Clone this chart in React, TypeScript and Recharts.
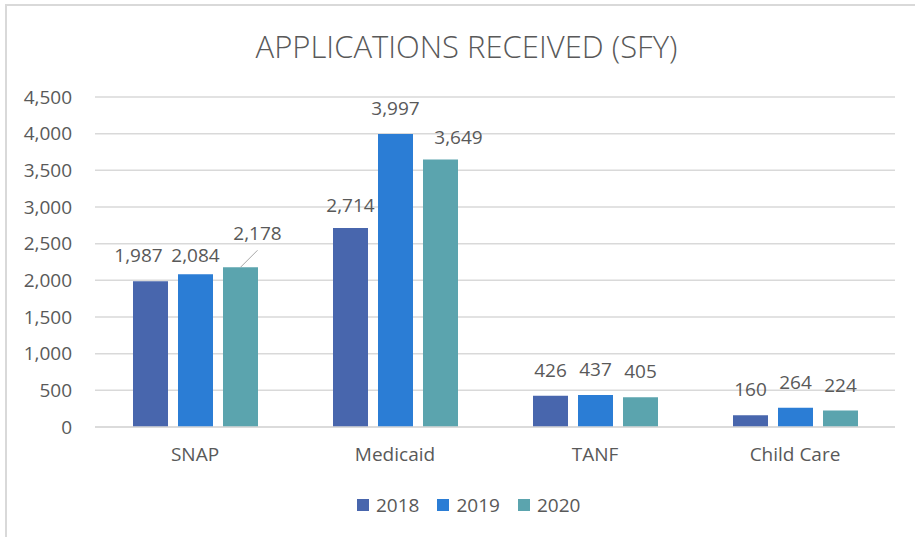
import { Bar, BarChart, CartesianGrid, LabelList, XAxis, YAxis } from 'recharts'

const programs = ['SNAP', 'Medicaid', 'TANF', 'Child Care']
const years = ['2018', '2019', '2020']
const apps2018 = [1987, 2714, 426, 160]
const apps2019 = [2084, 3997, 437, 264]
const apps2020 = [2178, 3649, 405, 224]
const yTicks = [0, 500, 1000, 1500, 2000, 2500, 3000, 3500, 4000, 4500]

const COLORS = ['#4866ad', '#2b7dd5', '#5ba4ae']
const TEXT = '#595959'
const GRID = '#d9d9d9'
const FONT = '"Open Sans", sans-serif'

// labels that were dragged by hand in the original chart
const labelShift: Record<string, { dx: number; dy: number; leader?: boolean }> = {
    '2018-SNAP': { dx: -12, dy: 0 },
    '2019-SNAP': { dx: 0, dy: 7 },
    '2020-SNAP': { dx: 17, dy: -8, leader: true },
    '2018-Medicaid': { dx: 0, dy: 3 },
    '2020-Medicaid': { dx: 18, dy: 4 }
}

const data = programs.map((name, i) => ({
    name,
    '2018': apps2018[i],
    '2019': apps2019[i],
    '2020': apps2020[i]
}))

function fmt(v: number): string {
    return v.toLocaleString('en-US')
}

function makeLabel(year: string) {
    return (props: any) => {
        const { x, y, width, value, index } = props
        const cx = Number(x) + Number(width) / 2
        const top = Number(y)
        const shift = labelShift[`${year}-${programs[index]}`]
        const dx = shift ? shift.dx : 0
        const dy = shift ? shift.dy : 0
        return (
            <g>
                {shift?.leader ? (
                    <line x1={cx} y1={top} x2={cx + dx} y2={top - 17} stroke="#a6a6a6" strokeWidth={1} />
                ) : null}
                <text
                    x={cx + dx}
                    y={top - 19 + dy}
                    textAnchor="middle"
                    fill={TEXT}
                    fontSize={19}
                    fontFamily={FONT}
                >
                    {fmt(Number(value))}
                </text>
            </g>
        )
    }
}

export default function App() {
    return (
        <div
            style={{
                position: 'absolute',
                left: 0,
                top: 0,
                width: 915,
                height: 537,
                background: '#fff',
                fontFamily: FONT
            }}
        >
            <div
                style={{
                    position: 'absolute',
                    left: 5,
                    top: 4,
                    right: 0,
                    bottom: 0,
                    borderTop: `2px solid ${GRID}`,
                    borderLeft: `2px solid ${GRID}`
                }}
            />
            <div
                style={{
                    position: 'absolute',
                    left: 0,
                    top: 26,
                    width: 933,
                    textAlign: 'center',
                    fontSize: 31,
                    fontWeight: 300,
                    color: TEXT,
                    lineHeight: '40px'
                }}
            >
                APPLICATIONS RECEIVED (SFY)
            </div>
            <BarChart
                width={915}
                height={537}
                data={data}
                margin={{ top: 97, right: 20, bottom: 80, left: 0 }}
                barGap={10}
                barSize={35}
                style={{ position: 'absolute', left: 0, top: 0 }}
            >
                <CartesianGrid vertical={false} stroke={GRID} strokeWidth={1.5} />
                <XAxis
                    dataKey="name"
                    height={30}
                    tickLine={false}
                    axisLine={{ stroke: GRID, strokeWidth: 1.5 }}
                    tickSize={0}
                    tickMargin={21}
                    tick={{ fill: TEXT, fontSize: 19, fontFamily: FONT }}
                />
                <YAxis
                    width={95}
                    domain={[0, 4500]}
                    ticks={yTicks}
                    tickFormatter={fmt}
                    tickLine={false}
                    axisLine={false}
                    tickSize={0}
                    tickMargin={23}
                    tick={{ fill: TEXT, fontSize: 19, fontFamily: FONT }}
                />
                {years.map((yr, i) => (
                    <Bar key={yr} dataKey={yr} fill={COLORS[i]} isAnimationActive={false}>
                        <LabelList dataKey={yr} content={makeLabel(yr)} />
                    </Bar>
                ))}
            </BarChart>
            <div
                style={{
                    position: 'absolute',
                    left: 357,
                    top: 492,
                    display: 'flex',
                    alignItems: 'center',
                    fontSize: 19,
                    color: TEXT,
                    lineHeight: '26px'
                }}
            >
                {years.map((yr, i) => (
                    <div key={yr} style={{ display: 'flex', alignItems: 'center', marginRight: 18 }}>
                        <span
                            style={{
                                display: 'inline-block',
                                width: 12,
                                height: 12,
                                background: COLORS[i],
                                marginRight: 7
                            }}
                        />
                        <span>{yr}</span>
                    </div>
                ))}
            </div>
        </div>
    )
}
